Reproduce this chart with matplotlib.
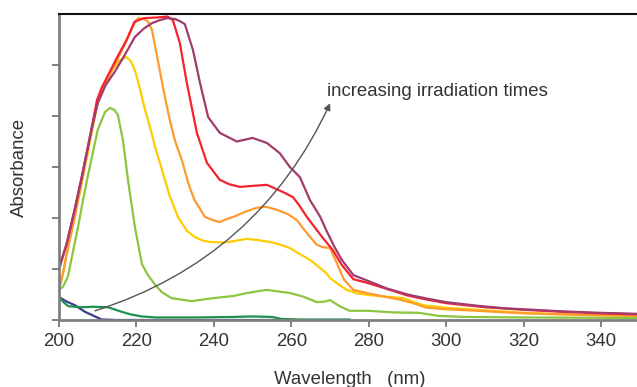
import matplotlib
matplotlib.use("Agg")
import matplotlib.pyplot as plt

plt.rcParams['font.family'] = ['Liberation Sans', 'DejaVu Sans']

# spectra: wavelength (nm) / absorbance (arb. units)
navy_wl = [200, 202, 204.1, 206.7, 209.3, 211, 215, 240, 260]
navy_a = [0.45, 0.36, 0.29, 0.16, 0.07, 0.01, 0.0, 0.0, 0.0]

teal_wl = [200, 201, 202.4, 205.9, 209, 212.7, 216.2, 218.5, 221.3, 225, 235, 245, 250, 255, 257.5, 262, 275]
teal_a = [0.45, 0.36, 0.27, 0.25, 0.26, 0.25, 0.16, 0.11, 0.07, 0.05, 0.05, 0.06, 0.07, 0.06, 0.02, 0.01, 0.01]

lgreen_wl = [200, 201, 202.3, 203.5, 204.9, 206.2, 207.6, 210, 211.9, 213.2, 214.3, 215.2, 216.5,
             217.8, 219.6, 221.4, 222.8, 224.8, 226.5, 229, 231.5, 234.3, 237, 240,
             242.3, 245, 248, 251, 253.7, 256.5, 259.6, 263, 266.6, 268.5, 270, 271.2, 272.5,
             275, 280, 286, 293, 298, 305, 320, 350]
lgreen_a = [0.59, 0.65, 0.85, 1.3, 1.82, 2.35, 2.88, 3.73, 4.08, 4.16, 4.12, 4.02, 3.53,
            2.75, 1.82, 1.1, 0.9, 0.69, 0.55, 0.43, 0.4, 0.37, 0.4, 0.43,
            0.45, 0.47, 0.52, 0.56, 0.59, 0.56, 0.53, 0.46, 0.35, 0.36, 0.39, 0.33, 0.27,
            0.18, 0.18, 0.15, 0.14, 0.08, 0.06, 0.05, 0.04]

yellow_wl = [200, 201, 202, 204, 206, 208, 209.8, 211, 213.7, 215.5, 217.3, 218.5, 219.6, 221, 222.2, 223,
             224.8, 226.6, 228.5, 230.7, 233, 235, 237, 239, 242, 244, 246, 248.5, 251, 254.5,
             257, 259.6, 262, 264.8, 267.4, 269, 270, 272.5, 274.3, 277, 280, 284, 288.8, 291,
             294, 300, 308, 320, 335, 350]
yellow_a = [0.6, 0.9, 1.3, 2.0, 2.75, 3.5, 4.2, 4.5, 4.9, 5.08, 5.16, 5.08, 4.9, 4.5, 4.12, 3.92,
            3.4, 2.94, 2.45, 2.02, 1.75, 1.63, 1.56, 1.53, 1.52, 1.53, 1.56, 1.59, 1.57, 1.53,
            1.48, 1.41, 1.3, 1.18, 1.02, 0.92, 0.82, 0.68, 0.59, 0.52, 0.49, 0.46, 0.43, 0.37,
            0.29, 0.24, 0.2, 0.14, 0.1, 0.08]

orange_wl = [200, 201, 202, 204, 206, 208, 209.8, 211, 213, 215, 217, 219, 220.4, 222, 223, 224,
             225.5, 227, 228.6, 230, 231.7, 233.5, 235, 237.7, 240, 241.5, 243, 245, 248, 251,
             253.5, 256.3, 259, 261.4, 263, 264.8, 266.5, 268, 270, 271.7, 273.5, 276, 280,
             284.6, 288, 291.4, 295, 300, 308, 320, 335, 350]
orange_a = [0.6, 0.9, 1.3, 2.0, 2.75, 3.55, 4.25, 4.5, 4.8, 5.1, 5.4, 5.75, 5.92, 5.9, 5.85, 5.69,
            5.1, 4.5, 3.92, 3.5, 3.14, 2.65, 2.35, 2.02, 1.95, 1.92, 1.97, 2.02, 2.12, 2.2,
            2.22, 2.16, 2.08, 1.96, 1.8, 1.63, 1.48, 1.43, 1.41, 1.12, 0.8, 0.59, 0.52,
            0.45, 0.4, 0.33, 0.24, 0.21, 0.18, 0.13, 0.1, 0.08]

red_wl = [200, 202, 204, 206, 208, 209.8, 211, 213, 215, 217.5, 219.5, 222, 225, 228, 229.4, 231.2,
          233, 235.6, 238.2, 241.5, 244, 246.7, 250, 253.7, 257.8, 260.4, 262, 264, 266, 268,
          270.7, 273, 276, 280, 285, 290, 295, 300, 310, 320, 330, 340, 350]
red_a = [1.0, 1.5, 2.15, 2.85, 3.6, 4.31, 4.55, 4.85, 5.15, 5.5, 5.85, 5.92, 5.93, 5.95, 5.88, 5.43,
         4.65, 3.67, 3.08, 2.75, 2.66, 2.61, 2.63, 2.65, 2.51, 2.41, 2.25, 2.02, 1.82, 1.62,
         1.37, 1.08, 0.8, 0.72, 0.6, 0.48, 0.4, 0.33, 0.25, 0.2, 0.16, 0.13, 0.11]

purple_wl = [200, 202, 204, 206, 208, 210, 212, 214.5, 217, 219.6, 222, 224, 226, 228, 230, 231.2,
             232.5, 234.6, 236.4, 238.5, 241.5, 245.9, 250, 253.7, 257, 259.6, 262.2, 264.8,
             267.4, 269, 271, 273, 276, 280, 284.6, 290, 295, 300, 308, 315, 320, 330, 340, 350]
purple_a = [1.0, 1.5, 2.15, 2.85, 3.6, 4.25, 4.6, 4.88, 5.2, 5.55, 5.72, 5.82, 5.88, 5.92, 5.9, 5.86,
            5.8, 5.29, 4.65, 3.98, 3.67, 3.5, 3.57, 3.47, 3.27, 3.0, 2.8, 2.35,
            2.03, 1.76, 1.45, 1.18, 0.88, 0.76, 0.62, 0.5, 0.42, 0.35, 0.28, 0.23, 0.21, 0.17, 0.14, 0.12]

xticks = [200, 220, 240, 260, 280, 300, 320, 340]
yticks = [0, 1, 2, 3, 4, 5]

series = [
    (navy_wl, navy_a, '#3b3b8f'),
    (teal_wl, teal_a, '#1f9050'),
    (lgreen_wl, lgreen_a, '#8cc63e'),
    (yellow_wl, yellow_a, '#ffcc00'),
    (orange_wl, orange_a, '#ff9a2e'),
    (red_wl, red_a, '#f5222d'),
    (purple_wl, purple_a, '#a03c6e'),
]

fig = plt.figure(figsize=(6.37, 3.87), dpi=100)
ax = fig.add_axes([59 / 637, 1 - 320 / 387, 581 / 637, 306 / 387])

for wl, a, col in series:
    ax.plot(wl, a, color=col, lw=1.6, solid_joinstyle='round')

# arrow + note
ax.annotate('', xy=(270, 4.25), xytext=(209.3, 0.18),
            arrowprops=dict(arrowstyle='-|>', color='#555555', lw=1.0,
                            mutation_scale=10, shrinkA=0, shrinkB=0,
                            connectionstyle='arc3,rad=0.22'))
ax.text(269.2, 4.49, 'increasing irradiation times', fontsize=13.4,
        color='#333333', ha='left', va='center')

ax.set_xlim(200, 350)
ax.set_ylim(0, 6)
ax.set_xticks(xticks)
ax.set_yticks(yticks)
ax.set_yticklabels([])
ax.tick_params(axis='both', direction='out', length=5, width=1.4, color='#808080',
               labelsize=13.4, labelcolor='#333333', pad=4.5)

for s in ['left', 'bottom']:
    ax.spines[s].set_color('#808080')
    ax.spines[s].set_linewidth(2)
ax.spines['top'].set_color('#111111')
ax.spines['top'].set_linewidth(1.5)
ax.spines['right'].set_visible(False)

ax.set_xlabel('Wavelength   (nm)', fontsize=13.4, color='#333333', labelpad=15)
ax.set_ylabel('Absorbance', fontsize=13.4, color='#333333', va='center')
ax.yaxis.set_label_coords(-0.068, 0.5)

fig.savefig('out.png', dpi=100)
